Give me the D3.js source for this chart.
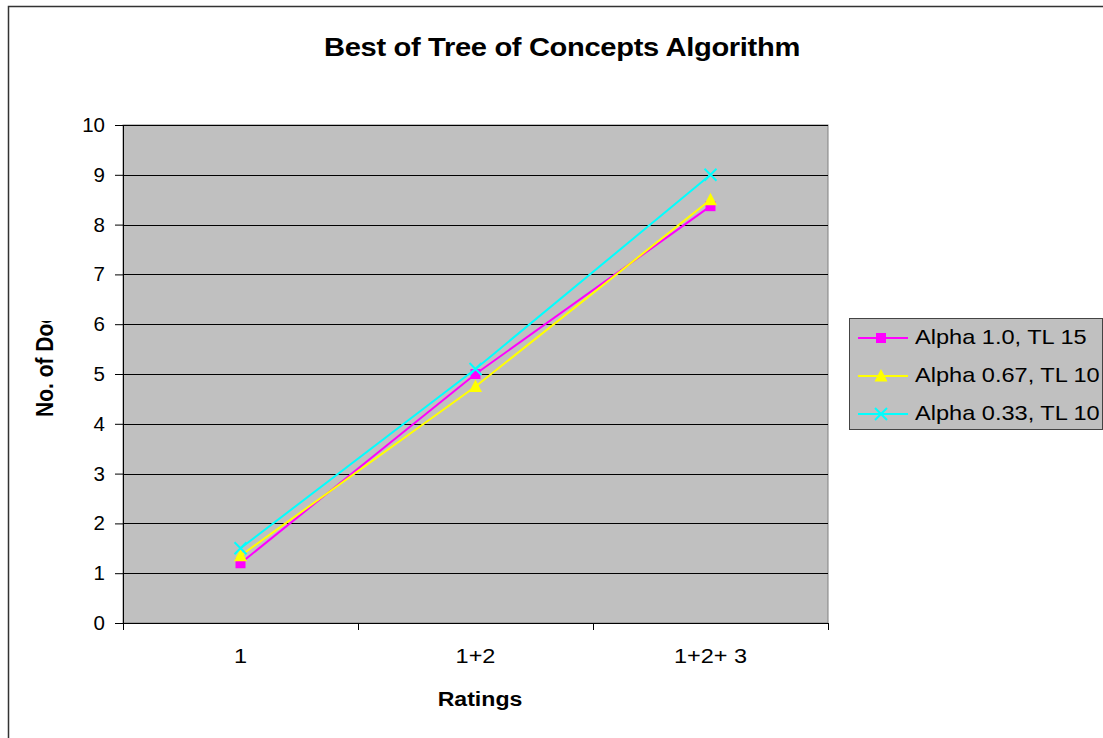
<!DOCTYPE html>
<html>
<head>
<meta charset="utf-8">
<script src="https://cdn.jsdelivr.net/npm/d3@7"></script>
<style>
  body { margin: 0; background: #fff; }
  text { font-family: "Liberation Sans", Arial, sans-serif; }
</style>
</head>
<body>
<div class="chart"></div>
<script>
const categories = ["1", "1+2", "1+2+ 3"];
const seriesNames = ["Alpha 1.0, TL 15", "Alpha 0.67, TL 10", "Alpha 0.33, TL 10"];
const alpha10 = [1.2, 5.0, 8.37];
const alpha067 = [1.35, 4.75, 8.5];
const alpha033 = [1.5, 5.1, 9.0];
const yTicks = [0, 1, 2, 3, 4, 5, 6, 7, 8, 9, 10];
const colors = ["#ff00ff", "#ffff00", "#00ffff"];
const shapes = ["square", "triangle", "cross"];

const W = 1103, H = 738;
const margin = { top: 125, left: 123 },
  width = 828 - 123,
  height = 623 - 125;

const svg = d3.select(".chart").append("svg")
  .attr("width", W)
  .attr("height", H);

// the original picture is a bit wider than tall, so text gets a horizontal stretch
const label = (parent, x, y, sx, str) => parent.append("text")
  .attr("transform", "translate(" + x + "," + y + ") scale(" + sx + ",1)")
  .text(str);

// outer chart border
svg.append("rect")
  .attr("x", 8.5).attr("y", 6.5)
  .attr("width", 1110).attr("height", 750)
  .attr("fill", "#fff")
  .attr("stroke", "#333").attr("stroke-width", 1.5);

label(svg, 562, 56, 1.12, "Best of Tree of Concepts Algorithm")
  .attr("text-anchor", "middle")
  .style("font-size", "26px").style("font-weight", "bold")
  .style("letter-spacing", "-0.3px");

const g = svg.append("g")
  .attr("transform", "translate(" + margin.left + "," + margin.top + ")");

const x = d3.scaleBand().domain(categories).range([0, width]);
const y = d3.scaleLinear().domain([0, 10]).range([height, 0]);

g.append("rect")
  .attr("width", width).attr("height", height)
  .attr("fill", "#c0c0c0")
  .attr("stroke", "#808080");

// gridlines
g.selectAll(".grid")
  .data(yTicks.slice(1))
  .enter().append("line")
  .attr("x1", 0).attr("x2", width)
  .attr("y1", d => Math.round(y(d)) + 0.5)
  .attr("y2", d => Math.round(y(d)) + 0.5)
  .attr("stroke", "#000");

// y axis
const yAxis = g.append("g")
  .call(d3.axisLeft(y).tickValues(yTicks).tickSize(8).tickPadding(10).tickFormat(d3.format("d")));
yAxis.select(".domain").attr("stroke", "#000").attr("d", "M0.5,0V" + height);
yAxis.selectAll("text")
  .style("font-size", "20.5px")
  .style("font-family", "'Liberation Sans', Arial, sans-serif")
  .attr("fill", "#000");

// x axis: ticks at category boundaries
const xAxis = g.append("g")
  .attr("transform", "translate(0," + height + ")");
xAxis.append("line")
  .attr("x1", 0).attr("x2", width)
  .attr("y1", 0.5).attr("y2", 0.5)
  .attr("stroke", "#000");
xAxis.selectAll(".tk")
  .data(categories.concat([null]))
  .enter().append("line")
  .attr("x1", (d, i) => i * x.bandwidth() + 0.5)
  .attr("x2", (d, i) => i * x.bandwidth() + 0.5)
  .attr("y1", 0).attr("y2", 7)
  .attr("stroke", "#000");
categories.forEach(c => {
  label(xAxis, x(c) + x.bandwidth() / 2, 40, 1.12, c)
    .attr("text-anchor", "middle")
    .style("font-size", "21px");
});

label(svg, 480, 706, 1.1, "Ratings")
  .attr("text-anchor", "middle")
  .style("font-size", "21px").style("font-weight", "bold");

// y axis title, clipped like the original
svg.append("clipPath").attr("id", "yclip")
  .append("rect").attr("x", 0).attr("y", 321).attr("width", 100).attr("height", 200);
svg.append("g").attr("clip-path", "url(#yclip)")
  .append("text")
  .attr("transform", "translate(53,417) scale(1.15,1) rotate(-90)")
  .style("font-size", "21px").style("font-weight", "bold")
  .text("No. of Documents");

const series = [alpha10, alpha067, alpha033];
const cx = d => x(d) + x.bandwidth() / 2;

function marker(sel, shape, color) {
  if (shape === "square") {
    sel.append("rect").attr("x", -5).attr("y", -5).attr("width", 10).attr("height", 10)
      .attr("fill", color);
  } else if (shape === "triangle") {
    sel.append("path").attr("d", "M0,-7L6.5,5.5L-6.5,5.5Z").attr("fill", color);
  } else {
    sel.append("path").attr("d", "M-6,-6L6,6M-6,6L6,-6")
      .attr("stroke", color).attr("stroke-width", 2).attr("fill", "none");
  }
}

const line = d3.line()
  .x((d, i) => cx(categories[i]))
  .y(d => y(d));

series.forEach((vals, si) => {
  g.append("path")
    .attr("d", line(vals))
    .attr("fill", "none")
    .attr("stroke", colors[si])
    .attr("stroke-width", 2);
  vals.forEach((v, i) => {
    const m = g.append("g").attr("transform", "translate(" + cx(categories[i]) + "," + y(v) + ")");
    marker(m, shapes[si], colors[si]);
  });
});

// legend
const lg = svg.append("g").attr("transform", "translate(849,318)");
lg.append("rect")
  .attr("x", 0.5).attr("y", 0.5).attr("width", 253).attr("height", 111)
  .attr("fill", "#c0c0c0").attr("stroke", "#444");
seriesNames.forEach((name, i) => {
  const row = lg.append("g").attr("transform", "translate(0," + (20 + i * 38) + ")");
  row.append("line").attr("x1", 9).attr("x2", 59).attr("y1", 0).attr("y2", 0)
    .attr("stroke", colors[i]).attr("stroke-width", 2);
  marker(row.append("g").attr("transform", "translate(32,0)"), shapes[i], colors[i]);
  label(row, 66, 6, 1.15, name)
    .style("font-size", "20.5px");
});
</script>
</body>
</html>
